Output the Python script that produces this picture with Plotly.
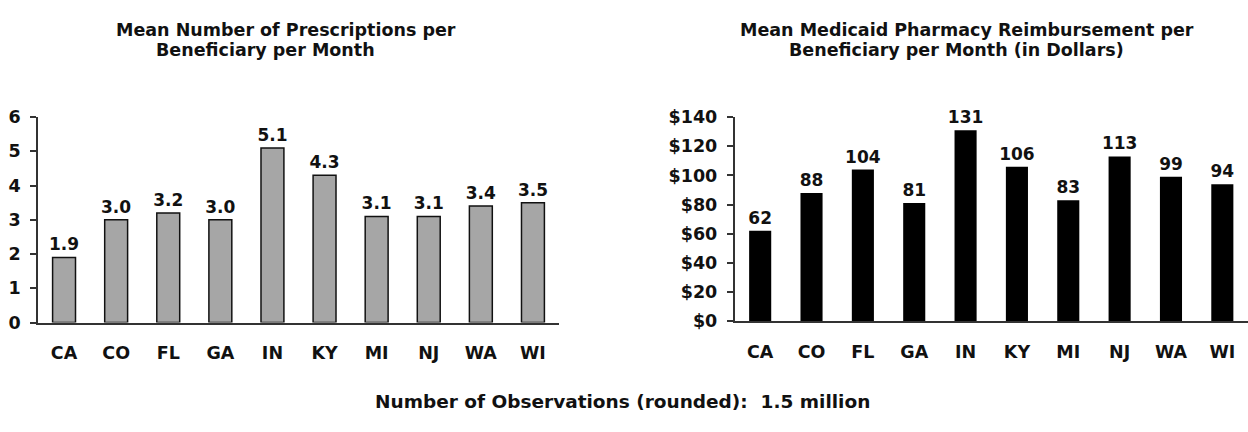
import plotly.graph_objects as go

states = ["CA", "CO", "FL", "GA", "IN", "KY", "MI", "NJ", "WA", "WI"]
rx_per_month = [1.9, 3.0, 3.2, 3.0, 5.1, 4.3, 3.1, 3.1, 3.4, 3.5]
reimb_per_month = [62, 88, 104, 81, 131, 106, 83, 113, 99, 94]
left_ticks = [0, 1, 2, 3, 4, 5, 6]
right_ticks = [0, 20, 40, 60, 80, 100, 120, 140]
right_tick_labels = [f"${v}" for v in right_ticks]

title_left_lines = ["Mean Number of Prescriptions per", "Beneficiary per Month"]
title_right_lines = ["Mean Medicaid Pharmacy Reimbursement per", "Beneficiary per Month (in Dollars)"]
footnote = "Number of Observations (rounded):  1.5 million"

FONT = "DejaVu Sans"
W, H = 1248, 432
INK = "#111111"

fig = go.Figure()
fig.add_trace(go.Bar(
    x=states, y=rx_per_month, xaxis="x", yaxis="y",
    marker=dict(color="#A6A6A6", line=dict(color=INK, width=1.5)),
    width=0.44,
    text=[f"{v:.1f}" for v in rx_per_month], textposition="outside",
    constraintext="none",
    textfont=dict(family=FONT, size=17, color=INK, weight="bold"),
    cliponaxis=False, showlegend=False, hoverinfo="skip",
))
fig.add_trace(go.Bar(
    x=states, y=reimb_per_month, xaxis="x2", yaxis="y2",
    marker=dict(color="#000000", line=dict(color="#000000", width=0)),
    width=0.43,
    text=[f"{v:d}" for v in reimb_per_month], textposition="outside",
    constraintext="none",
    textfont=dict(family=FONT, size=17, color=INK, weight="bold"),
    cliponaxis=False, showlegend=False, hoverinfo="skip",
))

axis_font = dict(family=FONT, size=17.5, color=INK, weight="bold")

def ydom(top_px, bot_px):
    return [1 - bot_px / H, 1 - top_px / H]

def label(text, cx, cy, size):
    return dict(text=text, x=cx / W, y=1 - cy / H, xref="paper", yref="paper",
                xanchor="center", yanchor="middle", showarrow=False,
                font=dict(family=FONT, size=size, color=INK, weight="bold"))

fig.update_layout(
    width=W, height=H,
    margin=dict(l=0, r=0, t=0, b=0),
    paper_bgcolor="white", plot_bgcolor="white",
    xaxis=dict(domain=[38 / W, 559 / W], anchor="y", showline=True, linecolor="#333333",
               linewidth=1.5, ticks="", tickfont=axis_font, ticklabelstandoff=14,
               showgrid=False, fixedrange=True),
    yaxis=dict(domain=ydom(112.3, 327.7), anchor="x", range=[0, 6], tickvals=left_ticks,
               showline=True, linecolor="#333333", linewidth=1.5, ticks="outside",
               ticklen=6, tickcolor="#333333", tickwidth=1.5, tickfont=axis_font,
               showgrid=False, zeroline=False, ticklabelstandoff=6),
    xaxis2=dict(domain=[734.5 / W, 1.0], anchor="y2", showline=True, linecolor="#333333",
                linewidth=1.5, ticks="", tickfont=axis_font, ticklabelstandoff=14,
                showgrid=False),
    yaxis2=dict(domain=ydom(112.3, 326.3), anchor="x2", range=[0, 140], tickvals=right_ticks,
                ticktext=right_tick_labels, showline=True, linecolor="#333333", linewidth=1.5,
                ticks="outside", ticklen=6, tickcolor="#333333", tickwidth=1.5,
                tickfont=axis_font, showgrid=False, zeroline=False, ticklabelstandoff=6),
    annotations=[
        label(title_left_lines[0], 285.5, 21, 17.5),
        label(title_left_lines[1], 265, 42, 17.5),
        label(title_right_lines[0], 967, 21, 17.5),
        label(title_right_lines[1], 956, 42, 17.5),
        label(footnote, 622.5, 411, 18.5),
    ],
)

fig.write_html("out.html")
